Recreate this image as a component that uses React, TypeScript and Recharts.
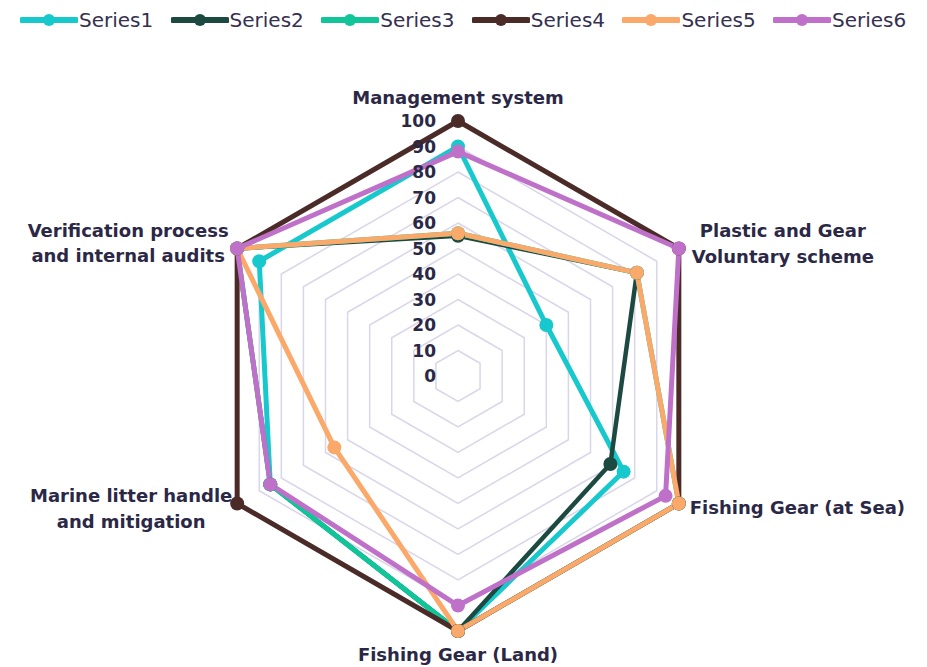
import React from 'react';
import { RadarChart, Radar, PolarGrid, PolarAngleAxis, PolarRadiusAxis, Legend } from 'recharts';

const categories = [
  'Management system',
  'Plastic and Gear\nVoluntary scheme',
  'Fishing Gear (at Sea)',
  'Fishing Gear (Land)',
  'Marine litter handle\nand mitigation',
  'Verification process\nand internal audits',
];

const series1 = [90, 40, 75, 100, 85, 90];
const series2 = [55, 81, 69, 100, 85, 100];
const series3 = [56, 81, 100, 100, 85, 100];
const series4 = [100, 100, 100, 100, 100, 100];
const series5 = [56, 81, 100, 100, 56, 100];
const series6 = [88, 100, 94, 90, 85, 100];

const seriesNames = ['Series1', 'Series2', 'Series3', 'Series4', 'Series5', 'Series6'];
const seriesValues = [series1, series2, series3, series4, series5, series6];
const seriesColors = ['#17c8cd', '#1c4a40', '#12c599', '#4a2b28', '#fba96a', '#bf71c9'];
const seriesWidths = [5, 4.5, 5, 5, 5, 5];

const radiusTicks = [0, 10, 20, 30, 40, 50, 60, 70, 80, 90, 100];

const data = categories.map((c, i) => {
  const row: any = { category: c };
  seriesNames.forEach((s, k) => {
    row[s] = seriesValues[k][i];
  });
  return row;
});

const W = 927;
const H = 667;
const CX = 458;
const CY = 376;
const R = 255;
const TEXT = '#2b2846';
const FONT = '"DejaVu Sans", sans-serif';

const labelLayout = [
  { dx: 0, dy: -24, anchor: 'middle', lh: 26 },
  { dx: 104, dy: -18, anchor: 'middle', lh: 26 },
  { dx: 11, dy: 4, anchor: 'start', lh: 26 },
  { dx: 0, dy: 23, anchor: 'middle', lh: 26 },
  { dx: -106, dy: -8, anchor: 'middle', lh: 26 },
  { dx: -109, dy: -18, anchor: 'middle', lh: 25 },
];

const RADIAN = Math.PI / 180;

const AngleTick = (props: any) => {
  const { payload } = props;
  const idx = payload.index ?? props.index ?? 0;
  const angle = payload.coordinate;
  const vx = CX + R * Math.cos(-RADIAN * angle);
  const vy = CY + R * Math.sin(-RADIAN * angle);
  const lay = labelLayout[idx];
  const lines = String(payload.value).split('\n');
  return (
    <g>
      {lines.map((ln, j) => (
        <text
          key={j}
          x={vx + lay.dx}
          y={vy + lay.dy + j * lay.lh}
          textAnchor={lay.anchor}
          dominantBaseline="central"
          fill={TEXT}
          fontFamily={FONT}
          fontWeight={700}
          fontSize={18}
        >
          {ln}
        </text>
      ))}
    </g>
  );
};

const RadiusTick = (props: any) => {
  const { x, y, payload } = props;
  return (
    <text
      x={x - 22}
      y={y}
      textAnchor="end"
      dominantBaseline="central"
      fill={TEXT}
      fontFamily={FONT}
      fontWeight={700}
      fontSize={17}
    >
      {payload.value}
    </text>
  );
};

const makeDot = (color: string) => (p: any) => (
  <circle key={`dot-${p.index}`} cx={p.cx} cy={p.cy} r={7} fill={color} stroke="none" />
);

const LegendContent = () => (
  <div style={{ position: 'relative', width: W, height: 40 }}>
    {seriesNames.map((s, i) => (
      <div
        key={s}
        style={{
          position: 'absolute',
          left: 20 + i * 150.6,
          top: 8,
          height: 24,
          display: 'flex',
          alignItems: 'center',
        }}
      >
        <svg width={58} height={14} style={{ display: 'block' }}>
          <line x1={2} y1={7} x2={56} y2={7} stroke={seriesColors[i]} strokeWidth={6} strokeLinecap="round" />
          <circle cx={29} cy={7} r={6} fill={seriesColors[i]} />
        </svg>
        <span
          style={{
            fontFamily: FONT,
            fontSize: 20,
            color: '#35304f',
            marginLeft: 1,
            lineHeight: '24px',
          }}
        >
          {s}
        </span>
      </div>
    ))}
  </div>
);

export default function App() {
  return (
    <div style={{ position: 'absolute', left: 0, top: 0, width: W, height: H, background: '#fff' }}>
      <RadarChart
        width={W}
        height={H}
        data={data}
        cx={CX}
        cy={CY}
        outerRadius={R}
        margin={{ top: 0, right: 0, bottom: 0, left: 0 }}
      >
        <PolarGrid gridType="polygon" radialLines={false} stroke="#d9d6ea" strokeWidth={1.5} />
        <PolarAngleAxis dataKey="category" tick={<AngleTick />} tickLine={false} axisLine={false} />
        {seriesNames.map((s, i) => (
          <Radar
            key={s}
            name={s}
            dataKey={s}
            stroke={seriesColors[i]}
            strokeWidth={seriesWidths[i]}
            fill="none"
            fillOpacity={0}
            dot={makeDot(seriesColors[i])}
            isAnimationActive={false}
          />
        ))}
        <PolarRadiusAxis
          angle={90}
          domain={[0, 100]}
          ticks={radiusTicks as any}
          tickCount={11}
          axisLine={false}
          tick={<RadiusTick />}
        />
        <Legend
          verticalAlign="bottom"
          content={<LegendContent />}
          wrapperStyle={{ top: 0, left: 0, bottom: 'auto', width: W, height: 40 }}
        />
      </RadarChart>
    </div>
  );
}
